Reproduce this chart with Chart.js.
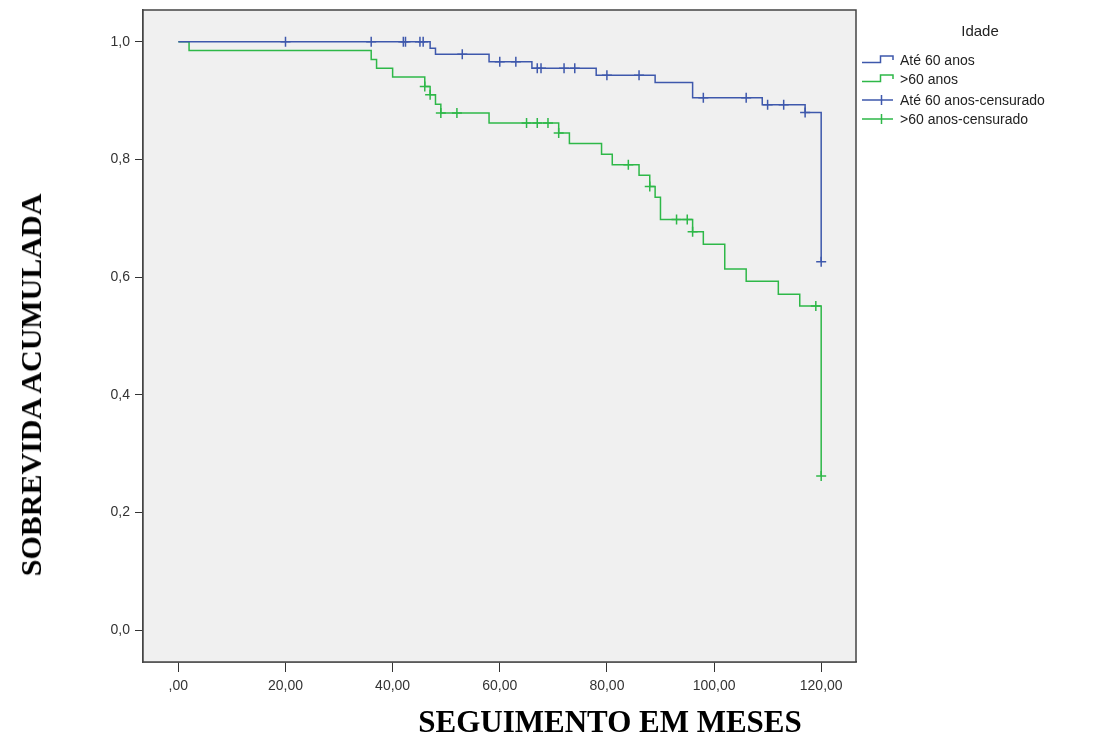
<!DOCTYPE html>
<html>
<head>
<meta charset="utf-8">
<script src="https://cdn.jsdelivr.net/npm/chart.js@4.4.1/dist/chart.umd.min.js"></script>
<style>
    html, body { margin: 0; padding: 0; background: #fff; }
    #wrap { position: relative; width: 1106px; height: 742px; }
    #km { position: absolute; left: 0; top: 0; }
    .axis-title {
        position: absolute;
        font-family: "Liberation Serif", "Times New Roman", serif;
        font-weight: bold;
        color: #000;
        white-space: nowrap;
    }
    #xTitle { left: 610px; top: 722px; transform: translate(-50%, -50%); font-size: 31px; }
    #yTitle { left: 31px; top: 385px; transform: translate(-50%, -50%) rotate(-90deg); font-size: 30px; }
    #legend { position: absolute; left: 0; top: 0; font-family: "Liberation Sans", Arial, sans-serif; color: #222; }
    #legend .title { position: absolute; left: 980px; top: 30px; transform: translate(-50%, -50%); font-size: 15px; }
    #legend .row { position: absolute; left: 855px; height: 16px; }
    #legend .row svg { position: absolute; left: 0; top: 0; }
    #legend .row span { position: absolute; left: 45px; top: 50%; transform: translateY(-50%); font-size: 14px; white-space: nowrap; }
</style>
</head>
<body>
<div id="wrap">
    <canvas id="km" width="1106" height="742"></canvas>
    <div class="axis-title" id="yTitle">SOBREVIDA ACUMULADA</div>
    <div class="axis-title" id="xTitle">SEGUIMENTO EM MESES</div>
    <div id="legend"></div>
</div>
<script>
// Kaplan-Meier steps (time in months, survival after the event)
const blueTimes = [0, 47, 48, 58, 66, 78, 89, 96, 109, 117, 120];
const blueSurv  = [1.0, 0.989, 0.979, 0.966, 0.955, 0.943, 0.931, 0.905, 0.893, 0.880, 0.626];
const blueCensored = [20, 36, 42, 42.4, 45.1, 45.7, 53, 60, 63, 67, 67.7, 72, 74, 80, 86, 98, 106, 110, 113, 117, 120];

const greenTimes = [0, 2, 36, 37, 40, 46, 47, 48, 49, 58, 71, 73, 79, 81, 86, 88, 89, 90, 96, 98, 102, 106, 112, 116, 120];
const greenSurv  = [1.0, 0.985, 0.970, 0.955, 0.940, 0.924, 0.910, 0.894, 0.879, 0.862, 0.845, 0.827, 0.809, 0.791,
                    0.773, 0.754, 0.736, 0.698, 0.677, 0.656, 0.614, 0.593, 0.571, 0.551, 0.262];
const greenCensored = [46, 47, 49, 52, 65, 67, 69, 71, 84, 88, 93, 95, 96, 119, 120];

const xTicks = [0, 20, 40, 60, 80, 100, 120];
const xTickLabels = [',00', '20,00', '40,00', '60,00', '80,00', '100,00', '120,00'];
const yTicks = [0, 0.2, 0.4, 0.6, 0.8, 1.0];
const yTickLabels = ['0,0', '0,2', '0,4', '0,6', '0,8', '1,0'];

const seriesNames = ['Até 60 anos', '>60 anos', 'Até 60 anos-censurado', '>60 anos-censurado'];

const BLUE = '#3e58ac';
const GREEN = '#2eb848';

// survival level of a step curve at time t
function levelAt(times, surv, t) {
    let s = surv[0];
    for (let i = 0; i < times.length; i++) {
        if (times[i] <= t) s = surv[i];
    }
    return s;
}

const toPoints = (times, surv) => times.map((t, i) => ({ x: t, y: surv[i] }));
const censorPoints = (cens, times, surv) => cens.map(t => ({ x: t, y: levelAt(times, surv, t) }));

const plotFrame = {
    id: 'plotFrame',
    beforeDatasetsDraw(chart) {
        const { ctx, chartArea: a } = chart;
        ctx.save();
        ctx.fillStyle = '#f0f0f0';
        ctx.fillRect(a.left, a.top, a.right - a.left, a.bottom - a.top);
        ctx.restore();
    },
    afterDraw(chart) {
        const { ctx, chartArea: a } = chart;
        ctx.save();
        ctx.strokeStyle = '#444';
        ctx.lineWidth = 1.5;
        ctx.strokeRect(a.left, a.top, a.right - a.left, a.bottom - a.top);
        ctx.restore();
    }
};

const tickFont = { family: "'Liberation Sans', Arial, sans-serif", size: 14 };

new Chart(document.getElementById('km'), {
    type: 'line',
    data: {
        datasets: [
            {
                label: seriesNames[0],
                data: toPoints(blueTimes, blueSurv),
                stepped: 'before',
                borderColor: BLUE,
                borderWidth: 1.5,
                pointRadius: 0,
                fill: false
            },
            {
                label: seriesNames[1],
                data: toPoints(greenTimes, greenSurv),
                stepped: 'before',
                borderColor: GREEN,
                borderWidth: 1.5,
                pointRadius: 0,
                fill: false
            },
            {
                label: seriesNames[2],
                data: censorPoints(blueCensored, blueTimes, blueSurv),
                showLine: false,
                pointStyle: 'cross',
                pointRadius: 5,
                borderColor: BLUE,
                backgroundColor: BLUE,
                pointBorderWidth: 1.5
            },
            {
                label: seriesNames[3],
                data: censorPoints(greenCensored, greenTimes, greenSurv),
                showLine: false,
                pointStyle: 'cross',
                pointRadius: 5,
                borderColor: GREEN,
                backgroundColor: GREEN,
                pointBorderWidth: 1.5
            }
        ]
    },
    options: {
        responsive: false,
        animation: false,
        events: [],
        layout: { padding: { left: 0, top: 10, right: 250, bottom: 0 } },
        scales: {
            x: {
                type: 'linear',
                min: -6.6,
                max: 126.5,
                afterBuildTicks: scale => { scale.ticks = xTicks.map(v => ({ value: v })); },
                afterFit: scale => { scale.height = 80; },
                ticks: {
                    callback: (v, i) => xTickLabels[i],
                    font: tickFont,
                    color: '#333',
                    padding: 6,
                    maxRotation: 0
                },
                grid: { display: true, drawOnChartArea: false, drawTicks: true, tickLength: 10, color: '#333' },
                border: { display: true, color: '#444', width: 1.5 }
            },
            y: {
                type: 'linear',
                min: -0.054,
                max: 1.054,
                afterBuildTicks: scale => { scale.ticks = yTicks.map(v => ({ value: v })); },
                afterFit: scale => {
                    scale.width = 143;
                    scale.paddingTop = 0;
                    scale.paddingBottom = 0;
                },
                ticks: {
                    callback: (v, i) => yTickLabels[i],
                    font: tickFont,
                    color: '#333',
                    padding: 5
                },
                grid: { display: true, drawOnChartArea: false, drawTicks: true, tickLength: 8, color: '#333' },
                border: { display: true, color: '#444', width: 1.5 }
            }
        },
        plugins: {
            legend: { display: false },
            tooltip: { enabled: false }
        }
    },
    plugins: [plotFrame]
});

// legend on the right, drawn the SPSS way: step icons for curves, crosses for censored
const legendRows = [
    { name: seriesNames[0], color: BLUE, kind: 'step', y: 60 },
    { name: seriesNames[1], color: GREEN, kind: 'step', y: 79 },
    { name: seriesNames[2], color: BLUE, kind: 'cross', y: 100 },
    { name: seriesNames[3], color: GREEN, kind: 'cross', y: 119 }
];
const legend = document.getElementById('legend');
legend.innerHTML = '<div class="title">Idade</div>' + legendRows.map(r => {
    const icon = r.kind === 'step'
        ? `<path d="M7 10.5 H25.5 V4 H38 V8" fill="none" stroke="${r.color}" stroke-width="1.5"/>`
        : `<path d="M7 8 H38 M26.5 3 V13" fill="none" stroke="${r.color}" stroke-width="1.5"/>`;
    return `<div class="row" style="top:${r.y - 8}px">
        <svg width="42" height="16">${icon}</svg><span>${r.name}</span></div>`;
}).join('');
</script>
</body>
</html>
